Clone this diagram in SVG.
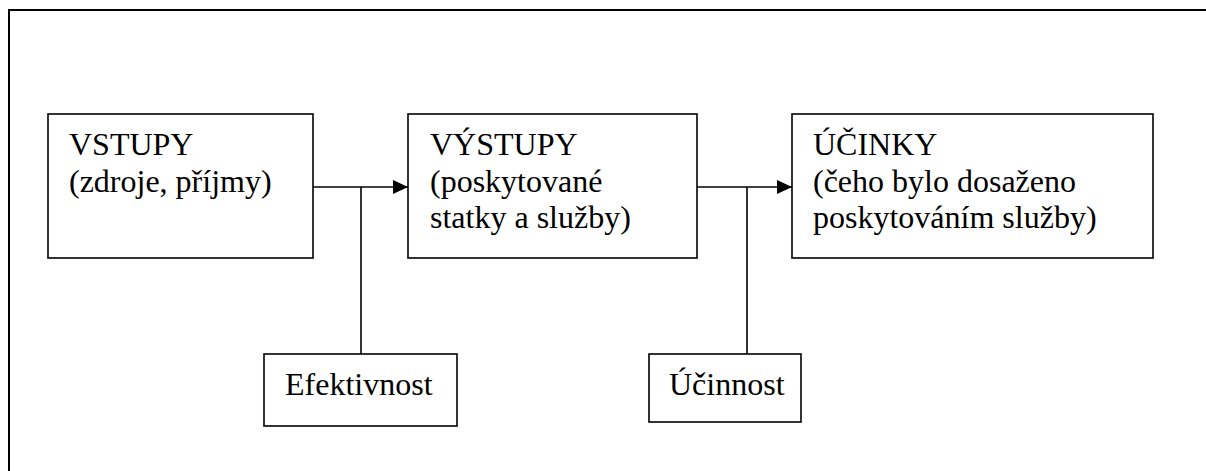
<svg xmlns="http://www.w3.org/2000/svg" width="1206" height="471" viewBox="0 0 1206 471">
<defs>
<style>
.box{fill:#fff;stroke:#000;stroke-width:1.6}
.t{font-family:'Liberation Serif','Times New Roman',Times,'Nimbus Roman','DejaVu Serif',serif;font-size:32px;fill:#000}
.ln{fill:none;stroke:#000;stroke-width:1.6}
</style>
<marker id="ah" markerWidth="16" markerHeight="14" refX="15" refY="7" orient="auto" markerUnits="userSpaceOnUse">
<path d="M0,0 L15,7 L0,14 Z" fill="#000"/>
</marker>
</defs>
<rect width="1206" height="471" fill="#fff"/>
<path d="M9,471 V10 H1206" fill="none" stroke="#000" stroke-width="2"/>
<g id="connectors">
<path class="ln" d="M313,187 H408" marker-end="url(#ah)"/>
<path class="ln" d="M361,187 V354"/>
<path class="ln" d="M697,187 H792" marker-end="url(#ah)"/>
<path class="ln" d="M747,187 V354"/>
</g>
<g id="vstupy">
<rect class="box" x="48" y="114" width="265" height="144"/>
<text class="t" x="69" y="155">VSTUPY</text>
<text class="t" x="69" y="192">(zdroje, příjmy)</text>
</g>
<g id="vystupy">
<rect class="box" x="408" y="114" width="289" height="144"/>
<text class="t" x="430" y="155">VÝSTUPY</text>
<text class="t" x="430" y="192">(poskytované</text>
<text class="t" x="430" y="228">statky a služby)</text>
</g>
<g id="ucinky">
<rect class="box" x="792" y="114" width="361" height="144"/>
<text class="t" x="813" y="155">ÚČINKY</text>
<text class="t" x="813" y="192">(čeho bylo dosaženo</text>
<text class="t" x="813" y="228">poskytováním služby)</text>
</g>
<g id="efektivnost">
<rect class="box" x="264" y="354" width="193" height="72"/>
<text class="t" x="285" y="395">Efektivnost</text>
</g>
<g id="ucinnost">
<rect class="box" x="649" y="354" width="152" height="68"/>
<text class="t" x="669" y="395">Účinnost</text>
</g>
</svg>
